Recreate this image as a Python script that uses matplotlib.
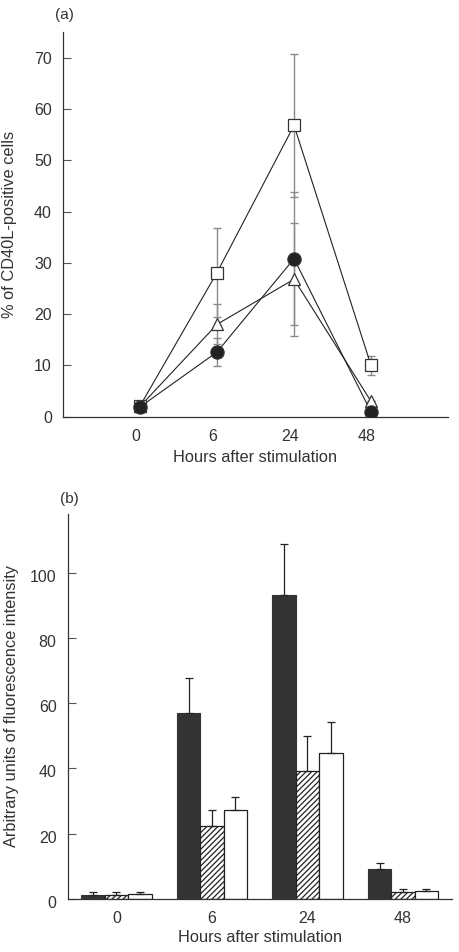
import numpy as np
import matplotlib
matplotlib.use("Agg")
import matplotlib.pyplot as plt
import matplotlib.transforms as mtransforms

plt.rcParams['font.family'] = ['Liberation Sans', 'DejaVu Sans']

# ---- data, panel (a): % of CD40L-positive cells ----
hours = ['0', '6', '24', '48']
sq_mean = [2.1, 28.1, 56.8, 10.0]
sq_err = [0.0, 8.6, 13.9, 1.8]
tri_mean = [2.0, 18.0, 26.8, 3.0]
tri_err = [0.0, 3.9, 11.0, 0.0]
circ_mean = [1.9, 12.6, 30.8, 0.9]
circ_err = [0.0, 2.8, 13.0, 0.0]

# ---- data, panel (b): fluorescence intensity ----
dark_mean = [1.2, 56.9, 93.2, 9.0]
dark_err = [0.9, 10.9, 15.7, 2.0]
hatch_mean = [1.2, 22.2, 39.1, 2.1]
hatch_err = [0.9, 4.9, 10.7, 0.8]
white_mean = [1.3, 27.1, 44.6, 2.3]
white_err = [0.8, 4.2, 9.7, 0.6]

txt = '#333333'
fig = plt.figure(figsize=(4.59, 9.52), dpi=100)

# panel (a)
ax = fig.add_axes([0.1373, 0.5623, 0.8388, 0.4041])
x = np.arange(len(hours))
for m, e, mk, fc, ms in [(sq_mean, sq_err, 's', 'white', 8.5),
                         (tri_mean, tri_err, '^', 'white', 8.5),
                         (circ_mean, circ_err, 'o', '#222222', 9.5)]:
    ax.errorbar(x, m, yerr=e, fmt='none', ecolor='#8a8a8a', elinewidth=1.0,
                capsize=3, capthick=1.0, zorder=1)
    ax.plot(x, m, color='#222222', lw=0.8, zorder=2)
    ax.plot(x, m, ls='none', marker=mk, ms=ms, mfc=fc, mec='#333333',
            mew=0.9, zorder=3)
ax.set_xlim(-1, 4)
ax.set_ylim(0, 75)
ax.set_yticks(range(0, 71, 10))
ax.set_xticks(x)
ax.set_xticklabels(hours)
ax.set_xlabel('Hours after stimulation', fontsize=11.8, color=txt, labelpad=4)
ax.set_ylabel('% of CD40L-positive cells', fontsize=11.8, color=txt, labelpad=12)
ax.text(-0.022, 1.035, '(a)', transform=ax.transAxes, fontsize=11, color=txt)

# panel (b)
bx = fig.add_axes([0.1475, 0.056, 0.8366, 0.4038])
w = 0.245
ekw = dict(elinewidth=0.9, capsize=3, capthick=0.9, ecolor='#222222')
bx.bar(x - w, dark_mean, w, color='#333333', edgecolor='#333333', lw=0.8,
       yerr=[np.zeros(4), dark_err], error_kw=ekw)
plt.rcParams['hatch.color'] = '#444444'
plt.rcParams['hatch.linewidth'] = 0.9
bx.bar(x, hatch_mean, w, color='white', edgecolor='#222222', lw=0.9,
       hatch='//////', yerr=[np.zeros(4), hatch_err], error_kw=ekw)
bx.bar(x + w, white_mean, w, color='white', edgecolor='#222222', lw=0.9,
       yerr=[np.zeros(4), white_err], error_kw=ekw)
bx.set_xlim(-0.51, 3.51)
bx.set_ylim(0, 118)
bx.set_yticks(range(0, 101, 20))
bx.set_xticks(x)
bx.set_xticklabels(hours)
bx.set_xlabel('Hours after stimulation', fontsize=11.8, color=txt, labelpad=3)
bx.set_ylabel('Arbitrary units of fluorescence intensity', fontsize=11.8,
              color=txt, labelpad=8)
bx.text(-0.02, 1.03, '(b)', transform=bx.transAxes, fontsize=11, color=txt)

for a in (ax, bx):
    for s in ('top', 'right'):
        a.spines[s].set_visible(False)
    for s in ('left', 'bottom'):
        a.spines[s].set_color('#333333')
        a.spines[s].set_linewidth(0.9)
    a.tick_params(axis='y', direction='in', length=6, width=0.8,
                  colors='#555555', labelcolor=txt, labelsize=11.5, pad=8)
    a.tick_params(axis='x', length=0, labelcolor=txt, labelsize=11.5, pad=9)

# tick labels in the original sit slightly left / below of their marks
off = mtransforms.ScaledTranslation(-4 / 100, 0, fig.dpi_scale_trans)
for lab in ax.get_xticklabels():
    lab.set_transform(lab.get_transform() + off)
offy = mtransforms.ScaledTranslation(0, -3 / 100, fig.dpi_scale_trans)
for lab in bx.get_yticklabels():
    lab.set_transform(lab.get_transform() + offy)

fig.savefig('out.png', dpi=100)
